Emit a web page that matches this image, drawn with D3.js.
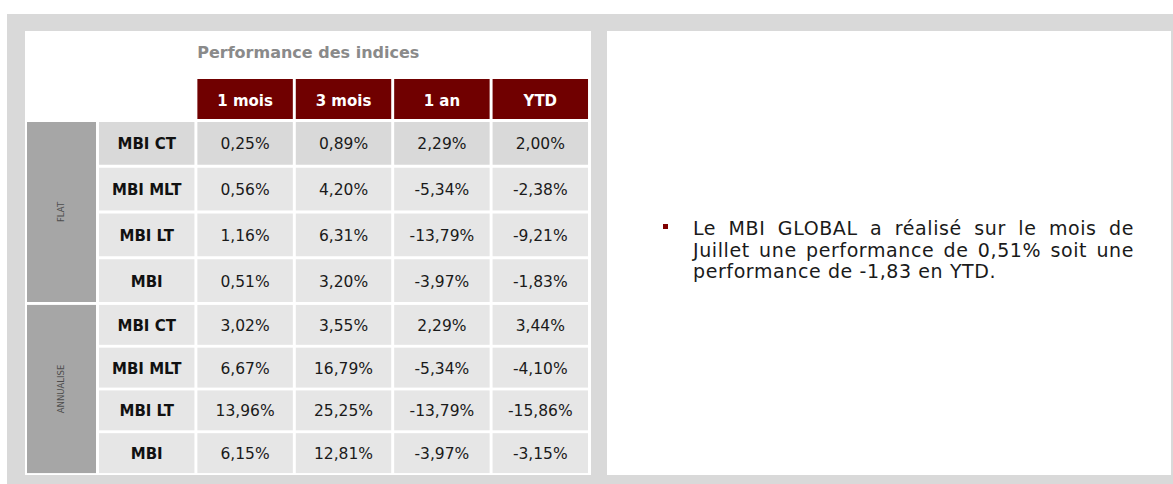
<!DOCTYPE html>
<html>
<head>
<meta charset="utf-8">
<script src="https://cdn.jsdelivr.net/npm/d3@7"></script>
<style>
    body { margin: 0; background: #ffffff; }
    svg  { display: block; }
</style>
</head>
<body>
<svg id="perf_table" width="1173" height="484"></svg>
<script>
const tableTitle   = "Performance des indices";
const periods      = ["1 mois", "3 mois", "1 an", "YTD"];
const indices      = ["MBI CT", "MBI MLT", "MBI LT", "MBI"];
const groups       = ["FLAT", "ANNUALISE"];

const flatValues   = [[ 0.25,  0.89,   2.29,   2.00],
                      [ 0.56,  4.20,  -5.34,  -2.38],
                      [ 1.16,  6.31, -13.79,  -9.21],
                      [ 0.51,  3.20,  -3.97,  -1.83]];

const annualValues = [[ 3.02,  3.55,   2.29,   3.44],
                      [ 6.67, 16.79,  -5.34,  -4.10],
                      [13.96, 25.25, -13.79, -15.86],
                      [ 6.15, 12.81,  -3.97,  -3.15]];

const commentLines = ["Le MBI GLOBAL a réalisé sur le mois de",
                      "Juillet une performance de 0,51% soit une",
                      "performance de -1,83 en YTD."];

const groupValues  = {"FLAT": flatValues, "ANNUALISE": annualValues};

// french number format: comma as decimal separator, plain hyphen for negatives
const frLocale = d3.formatLocale({decimal: ",", thousands: " ", grouping: [3], currency: ["", " €"], minus: "-"});
const fmt      = frLocale.format(".2f");

const FONT      = "'DejaVu Sans', sans-serif";
const DARK_RED  = "#700000";

var target_svg = d3.select("#perf_table");

// here we are drawing the grey frame and the two white panels
target_svg.append("rect")
    .attr("x", 7).attr("y", 14)
    .attr("width", 1166).attr("height", 470)
    .attr("fill", "#d9d9d9");

target_svg.append("rect")
    .attr("x", 25).attr("y", 31)
    .attr("width", 566).attr("height", 444)
    .attr("fill", "#ffffff");

target_svg.append("rect")
    .attr("x", 607).attr("y", 31)
    .attr("width", 564).attr("height", 444)
    .attr("fill", "#ffffff");

// scales for the table
const columnKeys = ["name"].concat(periods);

const x = d3.scaleBand()
    .domain(columnKeys)
    .range([97.5, 589.5])
    .paddingInner(0.03)
    .paddingOuter(0.015);

const groupX = {left: 27, right: 96};

const groupRange = {"FLAT": [120.5, 303.5], "ANNUALISE": [303.5, 474.5]};

const rowScales = {};
groups.forEach(g =>
{
    rowScales[g] = d3.scaleBand()
        .domain(indices)
        .range(groupRange[g])
        .paddingInner(0.066)
        .paddingOuter(0.033);
});

const header = {top: 79, height: 40};

// here we are rendering the title
target_svg.append("text")
    .attr("x", (groupX.left + x.range()[1]) / 2)
    .attr("y", 58)
    .attr("text-anchor", "middle")
    .attr("font-family", FONT)
    .attr("font-size", 16)
    .attr("font-weight", "bold")
    .attr("fill", "#8a8a8a")
    .text(tableTitle);

// here we are rendering the header row
const headerG = target_svg.append("g");

headerG.selectAll("rect").data(periods)
    .enter().append("rect")
    .attr("x", d => x(d))
    .attr("y", header.top)
    .attr("width", x.bandwidth())
    .attr("height", header.height)
    .attr("fill", DARK_RED);

headerG.selectAll("text").data(periods)
    .enter().append("text")
    .attr("x", d => x(d) + x.bandwidth() / 2)
    .attr("y", header.top + header.height / 2 + 7)
    .attr("text-anchor", "middle")
    .attr("font-family", FONT)
    .attr("font-size", 15)
    .attr("font-weight", "bold")
    .attr("fill", "#ffffff")
    .text(d => d);

// here we are rendering each block of rows
groups.forEach((g, gi) =>
{
    const y     = rowScales[g];
    const block = target_svg.append("g").attr("class", "block_" + gi);

    const y0 = y(indices[0]);
    const y1 = y(indices[indices.length - 1]) + y.bandwidth();

    block.append("rect")
        .attr("x", groupX.left)
        .attr("y", y0)
        .attr("width", groupX.right - groupX.left)
        .attr("height", y1 - y0)
        .attr("fill", "#a6a6a6");

    const cx = (groupX.left + groupX.right) / 2;
    const cy = (y0 + y1) / 2;

    block.append("text")
        .attr("transform", `translate(${cx},${cy}) rotate(-90)`)
        .attr("text-anchor", "middle")
        .attr("dy", "0.35em")
        .attr("font-family", FONT)
        .attr("font-size", 8.5)
        .attr("fill", "#4d4d4d")
        .text(g);

    const rows = indices.map((name, ri) => ({name: name, ri: ri, values: groupValues[g][ri]}));

    const rowG = block.selectAll(".row").data(rows)
        .enter().append("g")
        .attr("class", "row")
        .attr("transform", d => `translate(0,${y(d.name)})`);

    const cellFill = d => (gi === 0 && d.ri === 0) ? "#d9d9d9" : "#e6e6e6";

    // index name cell
    rowG.append("rect")
        .attr("x", x("name"))
        .attr("width", x.bandwidth())
        .attr("height", y.bandwidth())
        .attr("fill", cellFill);

    rowG.append("text")
        .attr("x", x("name") + x.bandwidth() / 2)
        .attr("y", y.bandwidth() / 2 + 6)
        .attr("text-anchor", "middle")
        .attr("font-family", FONT)
        .attr("font-size", 15)
        .attr("font-weight", "bold")
        .attr("fill", "#111111")
        .text(d => d.name);

    // value cells
    rowG.each(function(d)
    {
        const r = d3.select(this);

        const cells = periods.map((p, pi) => ({period: p, value: d.values[pi], row: d}));

        r.selectAll(".cell").data(cells)
            .enter().append("rect")
            .attr("class", "cell")
            .attr("x", c => x(c.period))
            .attr("width", x.bandwidth())
            .attr("height", y.bandwidth())
            .attr("fill", c => cellFill(c.row));

        r.selectAll(".val").data(cells)
            .enter().append("text")
            .attr("class", "val")
            .attr("x", c => x(c.period) + x.bandwidth() / 2)
            .attr("y", y.bandwidth() / 2 + 6)
            .attr("text-anchor", "middle")
            .attr("font-family", FONT)
            .attr("font-size", 15.5)
            .attr("fill", "#1a1a1a")
            .text(c => fmt(c.value) + "%");
    });
});

// here we are rendering the comment on the right panel
const comment = {left: 693, right: 1134, top: 235, lineHeight: 21.5};

target_svg.append("rect")
    .attr("x", comment.left - 30)
    .attr("y", comment.top - 11)
    .attr("width", 5)
    .attr("height", 5)
    .attr("fill", "#800000");

const lines = target_svg.selectAll(".comment").data(commentLines)
    .enter().append("text")
    .attr("class", "comment")
    .attr("x", comment.left)
    .attr("y", (d, i) => comment.top + i * comment.lineHeight)
    .attr("font-family", FONT)
    .attr("font-size", 19)
    .attr("letter-spacing", 0.6)
    .attr("fill", "#1a1a1a")
    .text(d => d);

// justify every line but the last one by spreading the word gaps
lines.each(function(d, i)
{
    if (i === commentLines.length - 1) return;

    const natural = this.getComputedTextLength();
    const gaps    = d.split(" ").length - 1;
    const extra   = (comment.right - comment.left - natural) / gaps;

    d3.select(this).attr("word-spacing", Math.max(0, extra));
});
</script>
</body>
</html>
